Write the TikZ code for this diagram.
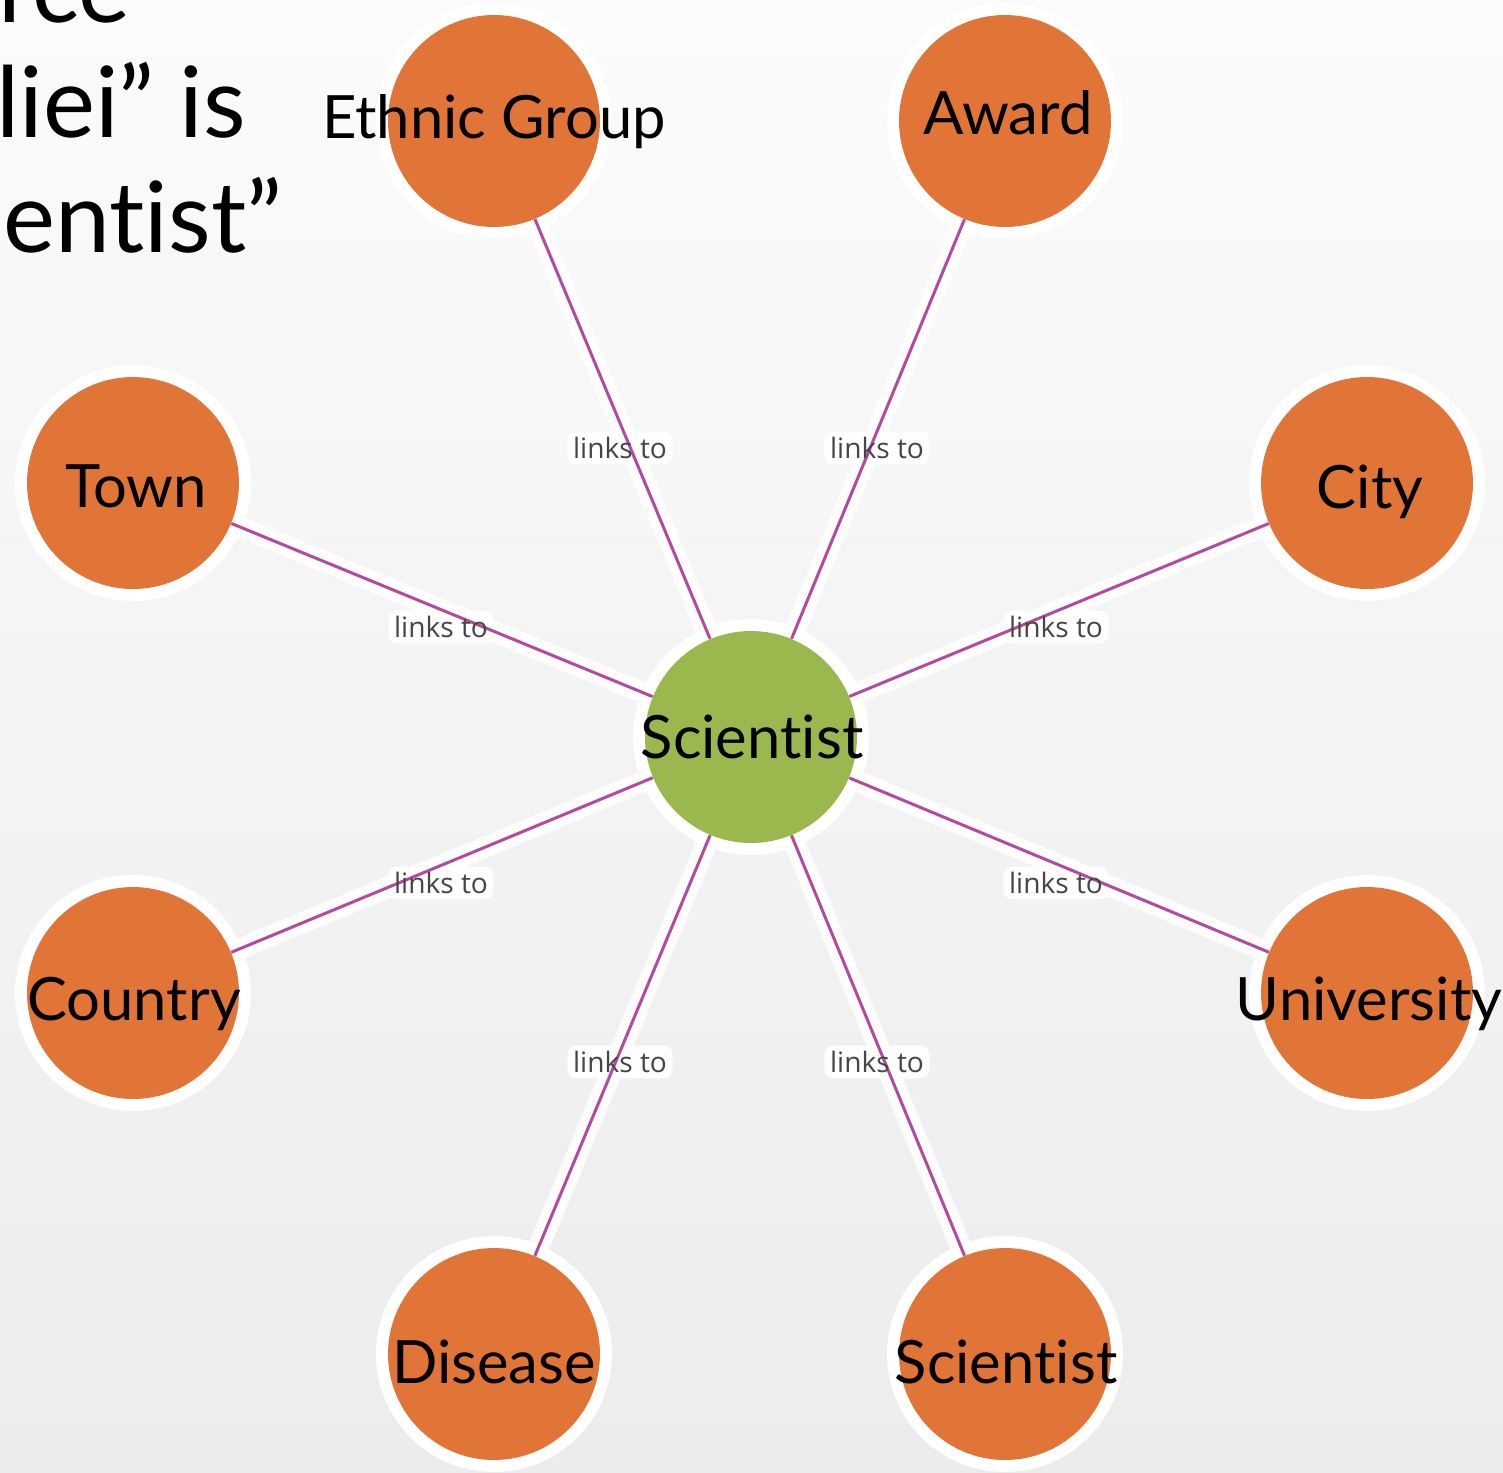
\documentclass[tikz,border=0pt]{standalone}
\usepackage{fontspec}
\setmainfont{Lato}[Ligatures={NoCommon}]
\newfontfamily\linkfont{Open Sans}

\definecolor{orangefill}{RGB}{225,117,56}
\definecolor{hubfill}{RGB}{155,184,79}
\definecolor{linkline}{RGB}{178,74,160}
\definecolor{linktext}{RGB}{70,70,70}
\definecolor{pagetop}{RGB}{251,251,251}
\definecolor{pagebottom}{RGB}{236,236,236}

\pgfdeclarelayer{backdrop}
\pgfdeclarelayer{halo}
\pgfdeclarelayer{links}
\pgfsetlayers{backdrop,halo,links,main}

\tikzset{
  entity/.style={circle,inner sep=0pt,minimum size=4.24cm,fill=orangefill},
  hubnode/.style={entity,fill=hubfill},
  nodetext/.style={font=\fontsize{34}{36}\selectfont,text=black,anchor=base,inner sep=0pt},
  slidetext/.style={font=\fontsize{56}{60}\selectfont,text=black,anchor=base west,inner sep=0pt},
  linklabel/.style={font=\linkfont\fontsize{16}{18}\selectfont,text=linktext,inner sep=3pt},
  labelhalo/.style={fill=white,rounded corners=5pt,opacity=0.9},
  ringhalo/.style={fill=white},
  linkhalo/.style={draw=white,line width=12pt,opacity=0.85},
  linkstroke/.style={draw=linkline,line width=1.7pt},
}

\begin{document}
\begin{tikzpicture}[x=0.02cm,y=-0.02cm]
\useasboundingbox (0,0) rectangle (1503,1472);

% page background
\begin{pgfonlayer}{backdrop}
  \fill[top color=pagetop,bottom color=pagebottom] (0,0) rectangle (1503,1472);
\end{pgfonlayer}

% slide text running in from the left edge
\begin{scope}
  \clip (0,0) rectangle (1503,1472);
  \node[slidetext] (s1) at (-2,22) {rce};
  \node[slidetext] (s2) at (-4,137) {liei” is};
  \node[slidetext] (s3) at (3,252) {entist”};
\end{scope}

% nodes
\node[hubnode] (sci) at (751,737) {};
\node[entity] (eth)  at (494,121) {};
\node[entity] (awd)  at (1005,121) {};
\node[entity] (town) at (133,483) {};
\node[entity] (city) at (1367,483) {};
\node[entity] (ctry) at (133,993) {};
\node[entity] (univ) at (1367,993) {};
\node[entity] (dis)  at (494,1354) {};
\node[entity] (sci2) at (1005,1354) {};

% white rings round the nodes
\begin{pgfonlayer}{halo}
  \foreach \n in {sci,eth,awd,town,city,ctry,univ,dis,sci2}
    \fill[ringhalo] (\n.center) circle[radius=2.36cm];
\end{pgfonlayer}

% connectors
\begin{pgfonlayer}{halo}
  \foreach \n in {eth,awd,town,city,ctry,univ,dis,sci2}
    \draw[linkhalo] (sci) -- (\n);
\end{pgfonlayer}
\begin{pgfonlayer}{links}
  \foreach \n in {eth,awd,town,city,ctry,univ,dis,sci2}
    \draw[linkstroke] (sci) -- (\n);
\end{pgfonlayer}

% connector labels
\node[linklabel] (l1) at (620,448)  {links to};
\node[linklabel] (l2) at (877,448)  {links to};
\node[linklabel] (l3) at (441,627)  {links to};
\node[linklabel] (l4) at (1056,627) {links to};
\node[linklabel] (l5) at (441,883)  {links to};
\node[linklabel] (l6) at (1056,883) {links to};
\node[linklabel] (l7) at (620,1062) {links to};
\node[linklabel] (l8) at (877,1062) {links to};

% soft white patches behind the labels, under the connector strokes
\begin{pgfonlayer}{halo}
  \foreach \n in {l1,l2,l3,l4,l5,l6,l7,l8}
    \fill[labelhalo] (\n.south west) rectangle (\n.north east);
\end{pgfonlayer}

% node captions
\node[nodetext] (sci-t)  at (752,758)   {Scientist};
\node[nodetext] (eth-t)  at (494,138)   {Ethnic Group};
\node[nodetext] (awd-t)  at (1008,134)  {Award};
\node[nodetext] (town-t) at (136,507)   {Town};
\node[nodetext] (city-t) at (1370,508)  {City};
\node[nodetext] (ctry-t) at (134,1020)  {Country};
\node[nodetext] (univ-t) at (1369,1020) {University};
\node[nodetext] (dis-t)  at (494,1383)  {Disease};
\node[nodetext] (sci2-t) at (1006,1383) {Scientist};
\end{tikzpicture}
\end{document}
